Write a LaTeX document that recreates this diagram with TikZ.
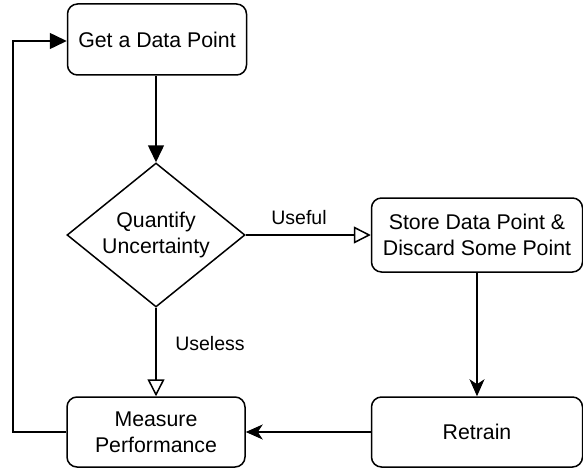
\documentclass[tikz,border=0pt]{standalone}
\usepackage{fontspec}
\setmainfont{Liberation Sans}
\usetikzlibrary{shapes.geometric,arrows.meta}
\begin{document}
\begin{tikzpicture}[x=1pt,y=-1pt,
  every node/.style={font=\fontsize{21.3}{26}\selectfont},
  box/.style={draw, line width=1.5pt, rounded corners=10pt, align=center, inner sep=0pt},
  decide/.style={draw, line width=1.5pt, diamond, aspect=1.236, inner sep=0pt,
    minimum width=178pt, minimum height=144pt, align=center},
  conn/.style={line width=1.5pt},
  solidtip/.style={conn, -{Triangle[length=17pt,width=16pt]}},
  opentip/.style={conn, -{Triangle[open,length=17pt,width=17pt,line width=1.5pt]}},
  classictip/.style={conn, -{Stealth[length=17pt,width=15pt,inset=5pt]}},
  lbl/.style={font=\fontsize{19.5}{23}\selectfont}
]
\useasboundingbox (0,0) rectangle (583,468);
\node[box, minimum width=179pt, minimum height=71pt] (get) at (157,39.5) {Get a Data Point};
\node[decide] (q) at (156,235) {Quantify\\Uncertainty};
\node[box, minimum width=211pt, minimum height=74pt] (store) at (477,235) {Store Data Point \&\\Discard Some Point};
\node[box, minimum width=211pt, minimum height=70pt] (retrain) at (477,432) {Retrain};
\node[box, minimum width=178pt, minimum height=70pt] (measure) at (156,432) {Measure\\Performance};
\coordinate (c1) at (13,432);
\coordinate (c2) at (13,41);

\draw[solidtip] (get.south -| q.north) -- (q.north);
\draw[opentip] (q.east) -- (store.west);
\node[lbl] (useful) at (299,218) {Useful};
\draw[opentip] (q.south) -- (measure.north);
\node[lbl] (useless) at (210,344) {Useless};
\draw[classictip] (store.south) -- (retrain.north);
\draw[classictip] (retrain.west) -- (measure.east);
\draw[solidtip] (measure.west) -- (c1) -- (c2) -- (c2 -| get.west);
\end{tikzpicture}
\end{document}
